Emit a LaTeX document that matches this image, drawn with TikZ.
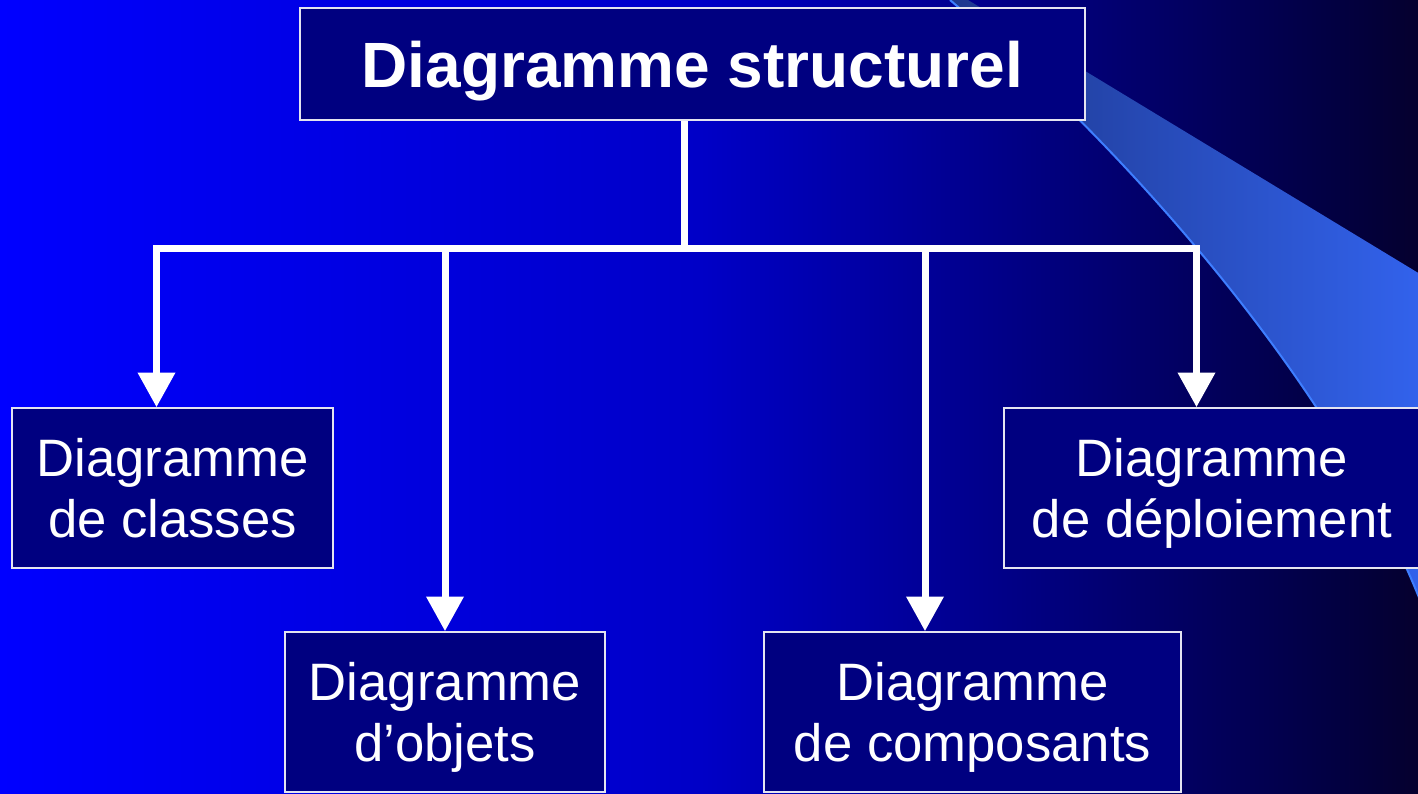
\documentclass[tikz,border=0pt]{standalone}
\usepackage{fontspec}
\setmainfont{Liberation Sans}
\usetikzlibrary{arrows.meta,calc,positioning}
\definecolor{boxnavy}{RGB}{0,0,128}
\definecolor{boxline}{RGB}{228,228,240}
\definecolor{swooshdark}{RGB}{30,56,142}
\definecolor{swooshlight}{RGB}{50,98,236}
\definecolor{swooshedge}{RGB}{62,126,255}
\pgfdeclarehorizontalshading{slidebg}{100bp}{rgb(0bp)=(0,0,1); rgb(25bp)=(0,0,1); rgb(49.7bp)=(0,0,0.78); rgb(73bp)=(0.01,0,0.235); rgb(75bp)=(0.02,0,0.18); rgb(100bp)=(0.02,0,0.18)}

\begin{document}
\begin{tikzpicture}[x=0.75pt, y=-0.75pt, >=Triangle]
            \tikzstyle{block} = [draw=boxline, line width=1.2pt, fill=boxnavy, rectangle,
                text=white, align=center, text depth=0pt, inner sep=0pt,
                minimum height=120pt, font=\fontsize{39.5}{45.75}\selectfont]
            \tikzstyle{title} = [block, minimum width=588.75pt, minimum height=84pt,
                font=\bfseries\fontsize{48}{57}\selectfont]
            \tikzstyle{trunk} = [draw=white, line width=5.25pt]
            \tikzstyle{branch} = [trunk, -{Triangle[width=27pt, length=26pt]}]

            \useasboundingbox (0,0) rectangle (1418,793);
            \shade[shading=slidebg] (0,0) rectangle (1418,793);
            \shade[left color=swooshdark, right color=swooshlight]
                (968,0) -- (1420,274) -- (1420,600) .. controls (1340,400) and (1150,170) .. (950,0) -- cycle;
            \draw[swooshedge, line width=1.5pt] (950,0) .. controls (1150,170) and (1340,400) .. (1420,600);

            \node [title] (top) at (692.5,64) {Diagramme structurel};
            \node [block, minimum width=240.75pt] (classes) at (172.5,488) {Diagramme\\de classes};
            \node [block, minimum width=240pt] (objets) at (445,712) {Diagramme\\d’objets};
            \node [block, minimum width=312.75pt] (composants) at (972.5,712) {Diagramme\\de composants};
            \node [block, minimum width=312pt] (deploiement) at (1212,488) {Diagramme\\de déploiement};

            \draw [trunk] ($(top.south)+(-8.5,0)$) -- ++(0,128) coordinate (bus);
            \draw [branch] (bus) -| ($(classes.north)+(-16,0)$);
            \draw [branch] (bus) -| (objets.north);
            \draw [branch] (bus) -| ($(composants.north)+(-47.5,0)$);
            \draw [branch] (bus) -| ($(deploiement.north)+(-15.5,0)$);

        \end{tikzpicture}
\end{document}
